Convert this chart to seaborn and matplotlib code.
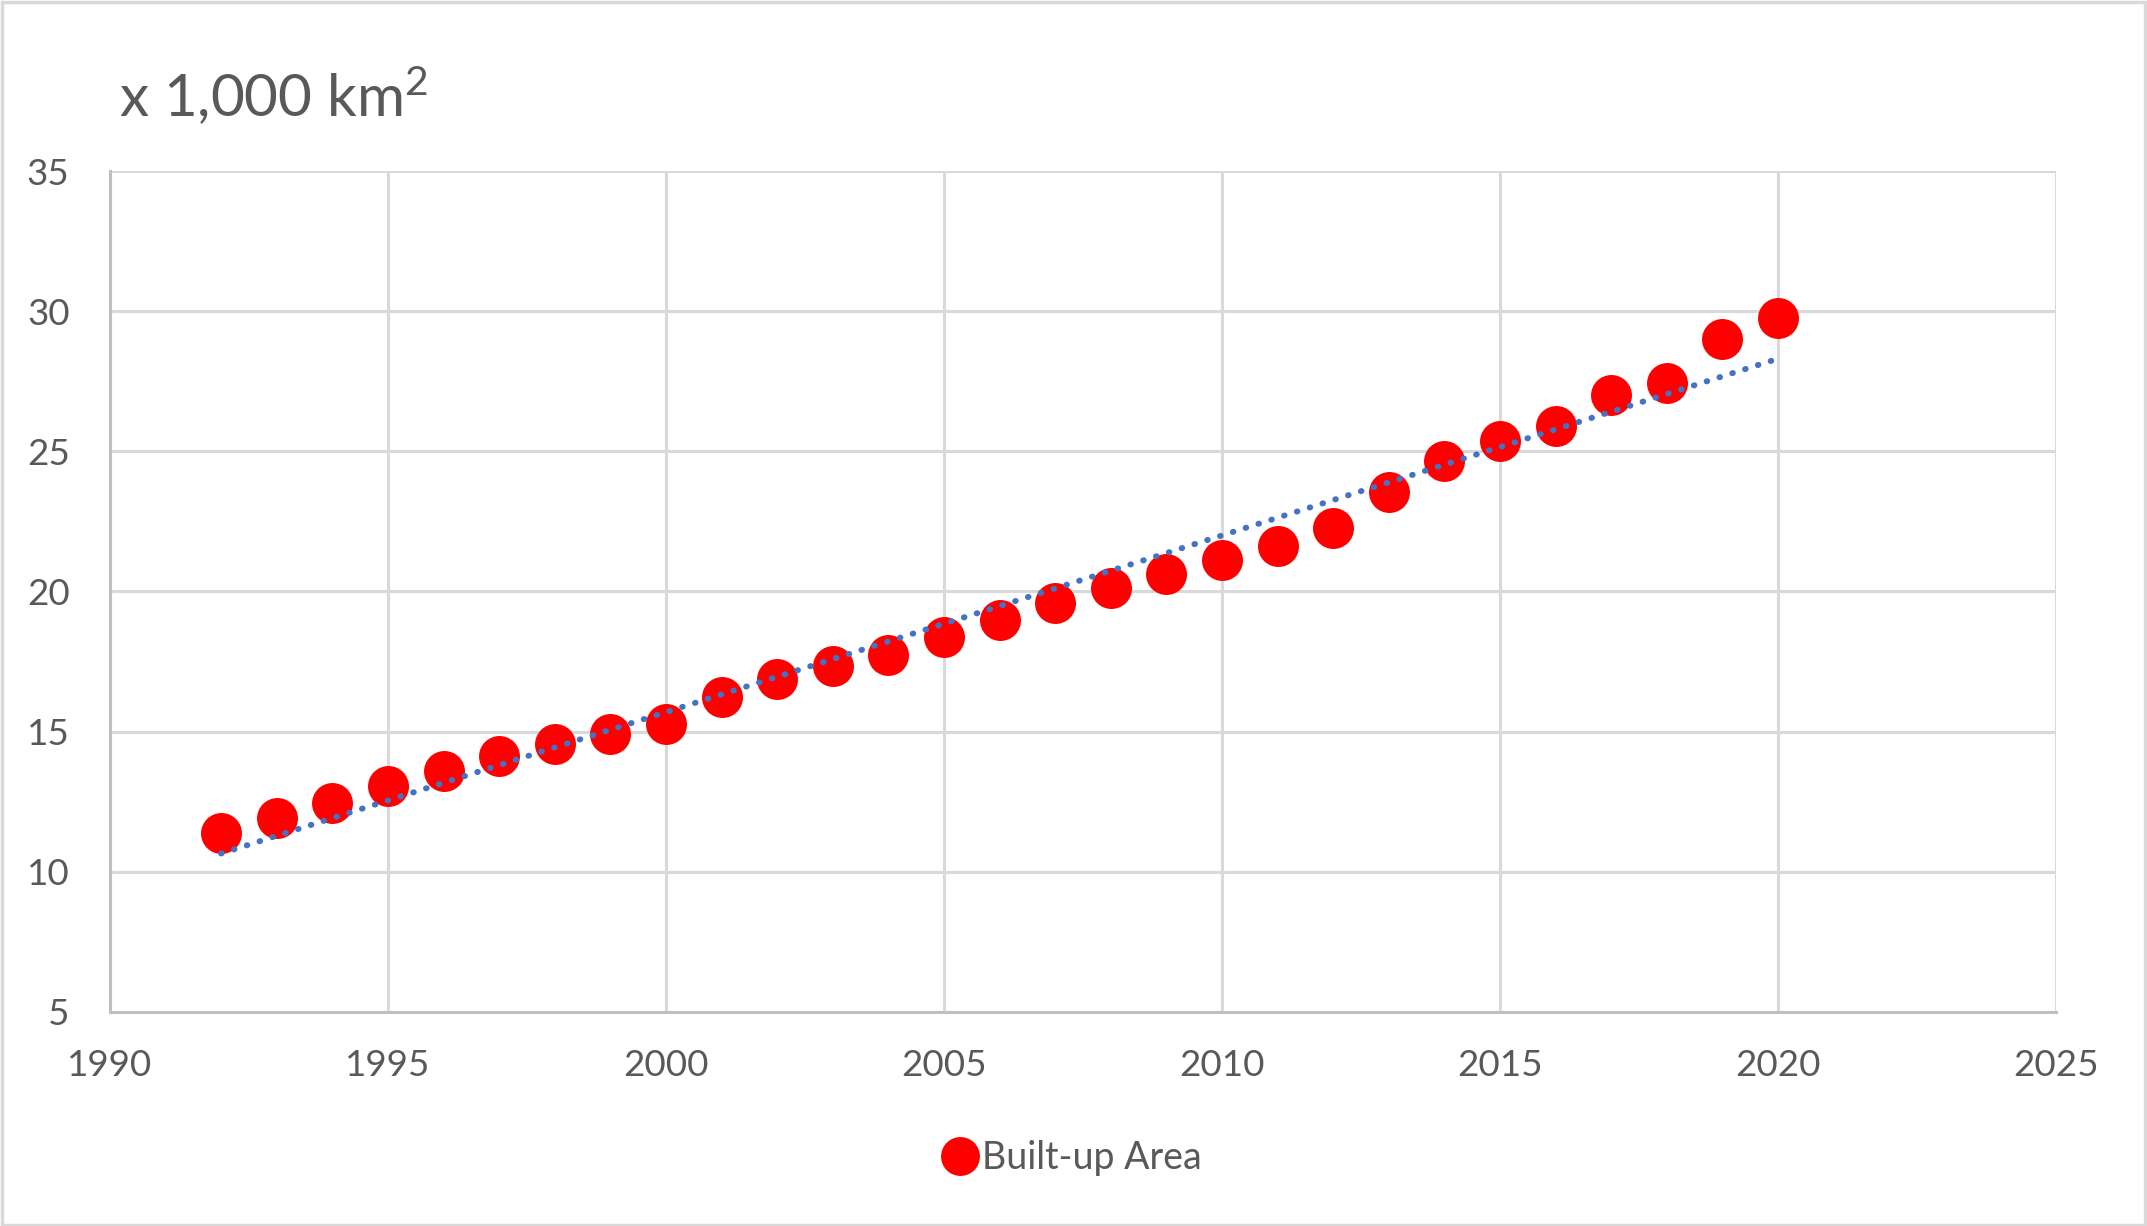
import matplotlib
matplotlib.use("Agg")
import matplotlib.pyplot as plt
import seaborn as sns
import pandas as pd
from matplotlib.patches import Rectangle
from matplotlib.lines import Line2D

# Built-up area, thousand km2
years = [1992, 1993, 1994, 1995, 1996, 1997, 1998, 1999, 2000, 2001,
         2002, 2003, 2004, 2005, 2006, 2007, 2008, 2009, 2010, 2011,
         2012, 2013, 2014, 2015, 2016, 2017, 2018, 2019, 2020]
area = [11.39, 11.93, 12.46, 13.05, 13.59, 14.12, 14.56, 14.90, 15.27, 16.25,
        16.87, 17.34, 17.75, 18.39, 18.98, 19.60, 20.11, 20.63, 21.12, 21.61,
        22.28, 23.55, 24.66, 25.37, 25.90, 27.00, 27.45, 28.99, 29.77]
x_ticks = [1990, 1995, 2000, 2005, 2010, 2015, 2020, 2025]
y_ticks = [5, 10, 15, 20, 25, 30, 35]
series_name = "Built-up Area"

df = pd.DataFrame({"year": years, "area": area})

sns.set_style("white")
plt.rcParams['font.family'] = ['Lato', 'DejaVu Sans']
plt.rcParams['mathtext.fontset'] = 'custom'
plt.rcParams['mathtext.rm'] = 'Lato'

text_col = "#595959"
grid_col = "#D9D9D9"

fig = plt.figure(figsize=(21.47, 12.26), dpi=100)
ax = fig.add_axes([0.0512, 0.1746, 0.9064, 0.6859])

# points, then the linear trendline on top (dotted)
sns.scatterplot(data=df, x="year", y="area", ax=ax, color="#FF0000", s=870,
                linewidth=0, zorder=3, legend=False)
sns.regplot(data=df, x="year", y="area", ax=ax, ci=None, scatter=False,
            line_kws=dict(color="#4472C4", lw=4.3, linestyle=(0, (0.1, 2.15)),
                          dash_capstyle="round", zorder=4))

ax.set_xlim(1990, 2025)
ax.set_ylim(5, 35)
ax.set_xticks(x_ticks)
ax.set_yticks(y_ticks)
ax.set_xlabel("")
ax.set_ylabel("")
ax.grid(True, color=grid_col, lw=2.2, zorder=0)
ax.set_axisbelow(True)
for s in ["top", "right"]:
    ax.spines[s].set_visible(False)
for s in ["left", "bottom"]:
    ax.spines[s].set_color("#BFBFBF")
    ax.spines[s].set_linewidth(2.2)
ax.tick_params(axis="both", length=0, labelsize=26.5, labelcolor=text_col)
ax.tick_params(axis="y", pad=29)
ax.tick_params(axis="x", pad=27)

fig.text(0.0554, 0.9046, r"x 1,000 km$\mathrm{^2}$", fontsize=42, color=text_col,
         va="baseline", ha="left")

handle = Line2D([], [], marker="o", color="none", markerfacecolor="#FF0000",
                markeredgewidth=0, markersize=28)
leg = fig.legend([handle], [series_name], loc="center",
                 bbox_to_anchor=(0.499, 0.0555), frameon=False, fontsize=27,
                 handlelength=1.0, handletextpad=0.1, borderpad=0)
for t in leg.get_texts():
    t.set_color(text_col)

fig.patches.append(Rectangle((0.001, 0.001), 0.998, 0.997, transform=fig.transFigure,
                             fill=False, edgecolor=grid_col, lw=2.5))

fig.savefig("out.png", dpi=100)
